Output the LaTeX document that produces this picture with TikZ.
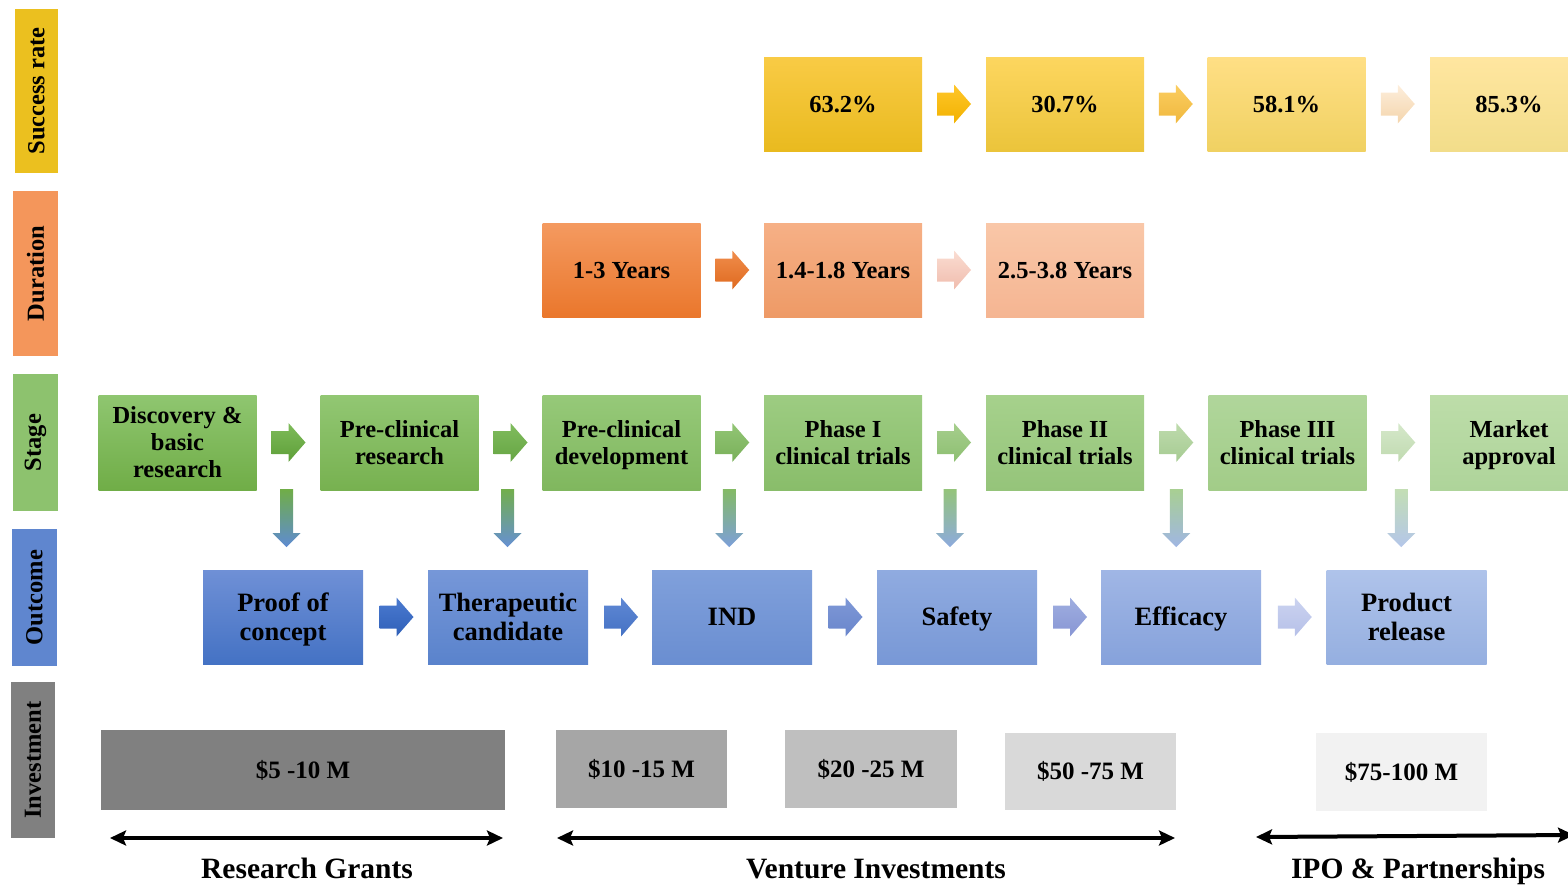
\documentclass[tikz,border=0pt]{standalone}
\usepackage{fontspec}
\setmainfont{Liberation Serif}
\usetikzlibrary{arrows.meta,calc}

% palette
\definecolor{lab1}{HTML}{EBC01F}\definecolor{lab2}{HTML}{F4965B}
\definecolor{lab3}{HTML}{8DC26E}\definecolor{lab4}{HTML}{5F86CF}
\definecolor{lab5}{HTML}{808080}
% stage boxes
\definecolor{s1t}{HTML}{8FC670}\definecolor{s1b}{HTML}{70AD47}
\definecolor{s2t}{HTML}{92C773}\definecolor{s2b}{HTML}{77B150}
\definecolor{s3t}{HTML}{96C979}\definecolor{s3b}{HTML}{80B75E}
\definecolor{s4t}{HTML}{9DCC82}\definecolor{s4b}{HTML}{89BD6A}
\definecolor{s5t}{HTML}{A6D18C}\definecolor{s5b}{HTML}{95C47A}
\definecolor{s6t}{HTML}{B0D69B}\definecolor{s6b}{HTML}{A2CC88}
\definecolor{s7t}{HTML}{BDDDA9}\definecolor{s7b}{HTML}{AED49A}
% stage arrows
\definecolor{a1t}{HTML}{7EBB5A}\definecolor{a1b}{HTML}{5E9F38}
\definecolor{a2t}{HTML}{80BC5E}\definecolor{a2b}{HTML}{66A543}
\definecolor{a3t}{HTML}{92C575}\definecolor{a3b}{HTML}{79B059}
\definecolor{a4t}{HTML}{A6CE8D}\definecolor{a4b}{HTML}{8DBF71}
\definecolor{a5t}{HTML}{BEDBAD}\definecolor{a5b}{HTML}{A6CB92}
\definecolor{a6t}{HTML}{D5E8CA}\definecolor{a6b}{HTML}{C0DAB0}
% success boxes and arrows
\definecolor{p1t}{HTML}{F9CB45}\definecolor{p1b}{HTML}{E9BA1F}
\definecolor{p2t}{HTML}{FDD65F}\definecolor{p2b}{HTML}{EBC43B}
\definecolor{p3t}{HTML}{FFDF85}\definecolor{p3b}{HTML}{F0D162}
\definecolor{p4t}{HTML}{FFE6A0}\definecolor{p4b}{HTML}{F2DD8A}
\definecolor{pa1t}{HTML}{FFC62A}\definecolor{pa1b}{HTML}{F2B200}
\definecolor{pa2t}{HTML}{FBCD60}\definecolor{pa2b}{HTML}{F0B83E}
\definecolor{pa3t}{HTML}{FDEEDC}\definecolor{pa3b}{HTML}{F4D5AC}
% duration boxes and arrows
\definecolor{d1t}{HTML}{F49A60}\definecolor{d1b}{HTML}{EA772C}
\definecolor{d2t}{HTML}{F6B086}\definecolor{d2b}{HTML}{EE9A66}
\definecolor{d3t}{HTML}{F9C7A8}\definecolor{d3b}{HTML}{F5B592}
\definecolor{da1t}{HTML}{F08D4C}\definecolor{da1b}{HTML}{DF6A1F}
\definecolor{da2t}{HTML}{FADDD3}\definecolor{da2b}{HTML}{F0BCAC}
% outcome boxes and arrows
\definecolor{o1t}{HTML}{6F90D6}\definecolor{o1b}{HTML}{4472C4}
\definecolor{o2t}{HTML}{7697D8}\definecolor{o2b}{HTML}{5A83CC}
\definecolor{o3t}{HTML}{80A0DB}\definecolor{o3b}{HTML}{6A8ED1}
\definecolor{o4t}{HTML}{90ABE0}\definecolor{o4b}{HTML}{7898D6}
\definecolor{o5t}{HTML}{A0B6E5}\definecolor{o5b}{HTML}{86A2DB}
\definecolor{o6t}{HTML}{AFC3EA}\definecolor{o6b}{HTML}{95AFE0}
\definecolor{oa1t}{HTML}{4B7AD0}\definecolor{oa1b}{HTML}{2F60B8}
\definecolor{oa2t}{HTML}{5F88D4}\definecolor{oa2b}{HTML}{4572C4}
\definecolor{oa3t}{HTML}{7E98D6}\definecolor{oa3b}{HTML}{6A86CC}
\definecolor{oa4t}{HTML}{9FAEE0}\definecolor{oa4b}{HTML}{8896D4}
\definecolor{oa5t}{HTML}{CBD3F0}\definecolor{oa5b}{HTML}{B6C0E8}
% stage-to-outcome arrows
\definecolor{v1t}{HTML}{70AD47}\definecolor{v1b}{HTML}{5E8BD3}
\definecolor{v2t}{HTML}{72AE4C}\definecolor{v2b}{HTML}{6690D4}
\definecolor{v3t}{HTML}{84BA65}\definecolor{v3b}{HTML}{7C9FDA}
\definecolor{v4t}{HTML}{94C47A}\definecolor{v4b}{HTML}{8DAADE}
\definecolor{v5t}{HTML}{A8CF92}\definecolor{v5b}{HTML}{A0B6E4}
\definecolor{v6t}{HTML}{C3DEB4}\definecolor{v6b}{HTML}{B4C6EA}
% investment boxes
\definecolor{i1}{HTML}{808080}\definecolor{i2}{HTML}{A6A6A6}
\definecolor{i3}{HTML}{BFBFBF}\definecolor{i4}{HTML}{D9D9D9}
\definecolor{i5}{HTML}{F2F2F2}

% right-pointing block arrow centred on #1
\newcommand\blockright[3]{%
  \path[top color=#2, bottom color=#3] (#1) ++(-17,-11.5) -- ++(17,0) -- ++(0,-8)
    -- ++(17,19.5) -- ++(-17,19.5) -- ++(0,-8) -- ++(-17,0) -- cycle;}
% downward block arrow hanging from #1
\newcommand\blockdown[3]{%
  \path[top color=#2, bottom color=#3] (#1) ++(-6.5,0) -- ++(13,0) -- ++(0,44)
    -- ++(7.5,0) -- ++(-14,14) -- ++(-14,-14) -- ++(7.5,0) -- cycle;}
% box text with struts balanced about the cap height, so that every
% label sits centred on its box whatever its descenders
\newcommand\boxtext[1]{\rule{0pt}{0.9em}#1\rule[-0.235em]{0pt}{0.235em}}

\begin{document}
\begin{tikzpicture}[x=1pt,y=-1pt,
  rowlabel/.style={rotate=90, inner sep=0, text=black,
    font=\fontsize{24.5}{27}\selectfont\bfseries},
  stagebox/.style={minimum width=158pt, minimum height=95pt, inner sep=0,
    align=center, font=\fontsize{24.5}{27}\selectfont\bfseries},
  ratebox/.style={stagebox, minimum height=94pt},
  outbox/.style={minimum width=160pt, minimum height=94pt, inner sep=0,
    align=center, font=\fontsize{26.5}{29.5}\selectfont\bfseries},
  costbox/.style={inner sep=0, font=\fontsize{25}{27}\selectfont\bfseries},
  fundarrow/.style={line width=4pt,
    {Stealth[length=16pt,width=15pt,inset=3pt]}-{Stealth[length=16pt,width=15pt,inset=3pt]}},
  fundlabel/.style={anchor=base, inner sep=0,
    font=\fontsize{29.5}{32}\selectfont\bfseries},
]
\useasboundingbox (0,0) rectangle (1568,886);
\clip (0,0) rectangle (1568,886);

% row labels
\node[rowlabel, fill=lab1, minimum width=164pt, minimum height=43pt] (lrate) at (36.5,91) {Success rate};
\node[rowlabel, fill=lab2, minimum width=165pt, minimum height=45pt] (ldur) at (35.5,273.5) {Duration};
\node[rowlabel, fill=lab3, minimum width=137pt, minimum height=45pt] (lstage) at (35.5,442.5) {Stage};
\node[rowlabel, fill=lab4, minimum width=137pt, minimum height=45pt] (lout) at (34.5,597.5) {Outcome};
\node[rowlabel, fill=lab5, minimum width=156pt, minimum height=44pt] (linv) at (33,760) {Investment};

% success rate row
\node[ratebox, top color=p1t, bottom color=p1b] (p1) at (843,104) {\boxtext{63.2\%}};
\node[ratebox, top color=p2t, bottom color=p2b] (p2) at (1065,104) {\boxtext{30.7\%}};
\node[ratebox, top color=p3t, bottom color=p3b] (p3) at (1286.5,104) {\boxtext{58.1\%}};
\node[ratebox, top color=p4t, bottom color=p4b] (p4) at (1509,104) {\boxtext{85.3\%}};
\blockright{$(p1.east)!.5!(p2.west)$}{pa1t}{pa1b}
\blockright{$(p2.east)!.5!(p3.west)$}{pa2t}{pa2b}
\blockright{$(p3.east)!.5!(p4.west)$}{pa3t}{pa3b}

% duration row
\node[ratebox, top color=d1t, bottom color=d1b] (d1) at (621.5,270) {\boxtext{1-3 Years}};
\node[ratebox, top color=d2t, bottom color=d2b] (d2) at (843,270) {\boxtext{1.4-1.8 Years}};
\node[ratebox, top color=d3t, bottom color=d3b] (d3) at (1065,270) {\boxtext{2.5-3.8 Years}};
\blockright{$(d1.east)!.5!(d2.west)$}{da1t}{da1b}
\blockright{$(d2.east)!.5!(d3.west)$}{da2t}{da2b}

% stage row
\node[stagebox, top color=s1t, bottom color=s1b] (s1) at (177.5,442.5) {\boxtext{Discovery \&\\basic\\research}};
\node[stagebox, top color=s2t, bottom color=s2b] (s2) at (399.5,442.5) {\boxtext{Pre-clinical\\research}};
\node[stagebox, top color=s3t, bottom color=s3b] (s3) at (621.5,442.5) {\boxtext{Pre-clinical\\development}};
\node[stagebox, top color=s4t, bottom color=s4b] (s4) at (843,442.5) {\boxtext{Phase I\\clinical trials}};
\node[stagebox, top color=s5t, bottom color=s5b] (s5) at (1065,442.5) {\boxtext{Phase II\\clinical trials}};
\node[stagebox, top color=s6t, bottom color=s6b] (s6) at (1287.5,442.5) {\boxtext{Phase III\\clinical trials}};
\node[stagebox, top color=s7t, bottom color=s7b] (s7) at (1509,442.5) {\boxtext{Market\\approval}};
\blockright{$(s1.east)!.5!(s2.west)$}{a1t}{a1b}
\blockright{$(s2.east)!.5!(s3.west)$}{a2t}{a2b}
\blockright{$(s3.east)!.5!(s4.west)$}{a3t}{a3b}
\blockright{$(s4.east)!.5!(s5.west)$}{a4t}{a4b}
\blockright{$(s5.east)!.5!(s6.west)$}{a5t}{a5b}
\blockright{$(s6.east)!.5!(s7.west)$}{a6t}{a6b}

% outcome row
\node[outbox, top color=o1t, bottom color=o1b] (o1) at (283,617) {\boxtext{Proof of\\concept}};
\node[outbox, top color=o2t, bottom color=o2b] (o2) at (508,617) {\boxtext{Therapeutic\\candidate}};
\node[outbox, top color=o3t, bottom color=o3b] (o3) at (732,617) {\boxtext{IND}};
\node[outbox, top color=o4t, bottom color=o4b] (o4) at (957,617) {\boxtext{Safety}};
\node[outbox, top color=o5t, bottom color=o5b] (o5) at (1181,617) {\boxtext{Efficacy}};
\node[outbox, top color=o6t, bottom color=o6b] (o6) at (1406.5,617) {\boxtext{Product\\release}};
\blockright{$(o1.east)!.5!(o2.west)+(1,0)$}{oa1t}{oa1b}
\blockright{$(o2.east)!.5!(o3.west)+(1,0)$}{oa2t}{oa2b}
\blockright{$(o3.east)!.5!(o4.west)+(1,0)$}{oa3t}{oa3b}
\blockright{$(o4.east)!.5!(o5.west)+(1,0)$}{oa4t}{oa4b}
\blockright{$(o5.east)!.5!(o6.west)+(1,0)$}{oa5t}{oa5b}

% stage to outcome
\blockdown{$(s1.south east)!.5!(s2.south west)+(-2,-1)$}{v1t}{v1b}
\blockdown{$(s2.south east)!.5!(s3.south west)+(-3,-1)$}{v2t}{v2b}
\blockdown{$(s3.south east)!.5!(s4.south west)+(-3,-1)$}{v3t}{v3b}
\blockdown{$(s4.south east)!.5!(s5.south west)+(-4,-1)$}{v4t}{v4b}
\blockdown{$(s5.south east)!.5!(s6.south west)+(0,-1)$}{v5t}{v5b}
\blockdown{$(s6.south east)!.5!(s7.south west)+(3,-1)$}{v6t}{v6b}

% investment row
\node[costbox, fill=i1, minimum width=404pt, minimum height=80pt] (i1) at (303,770) {\$5 -10 M};
\node[costbox, fill=i2, minimum width=171pt, minimum height=78pt] (i2) at (641.5,769) {\$10 -15 M};
\node[costbox, fill=i3, minimum width=172pt, minimum height=78pt] (i3) at (871,769) {\$20 -25 M};
\node[costbox, fill=i4, minimum width=171pt, minimum height=77pt] (i4) at (1090.5,771.5) {\$50 -75 M};
\node[costbox, fill=i5, minimum width=171pt, minimum height=78pt] (i5) at (1401.5,772) {\$75-100 M};

% funding spans
\coordinate (rg1) at (110,838);  \coordinate (rg2) at (503,838);
\coordinate (vi1) at (557,838);  \coordinate (vi2) at (1175,838);
\coordinate (ipo1) at (1256,837); \coordinate (ipo2) at (1574,835);
\draw[fundarrow] (rg1) -- (rg2);
\draw[fundarrow] (vi1) -- (vi2);
\draw[fundarrow] (ipo1) -- (ipo2);
\node[fundlabel] (rgl) at (307,878) {Research Grants};
\node[fundlabel] (vil) at (876,878) {Venture Investments};
\node[fundlabel] (ipol) at (1418,878) {IPO \& Partnerships};
\end{tikzpicture}
\end{document}
